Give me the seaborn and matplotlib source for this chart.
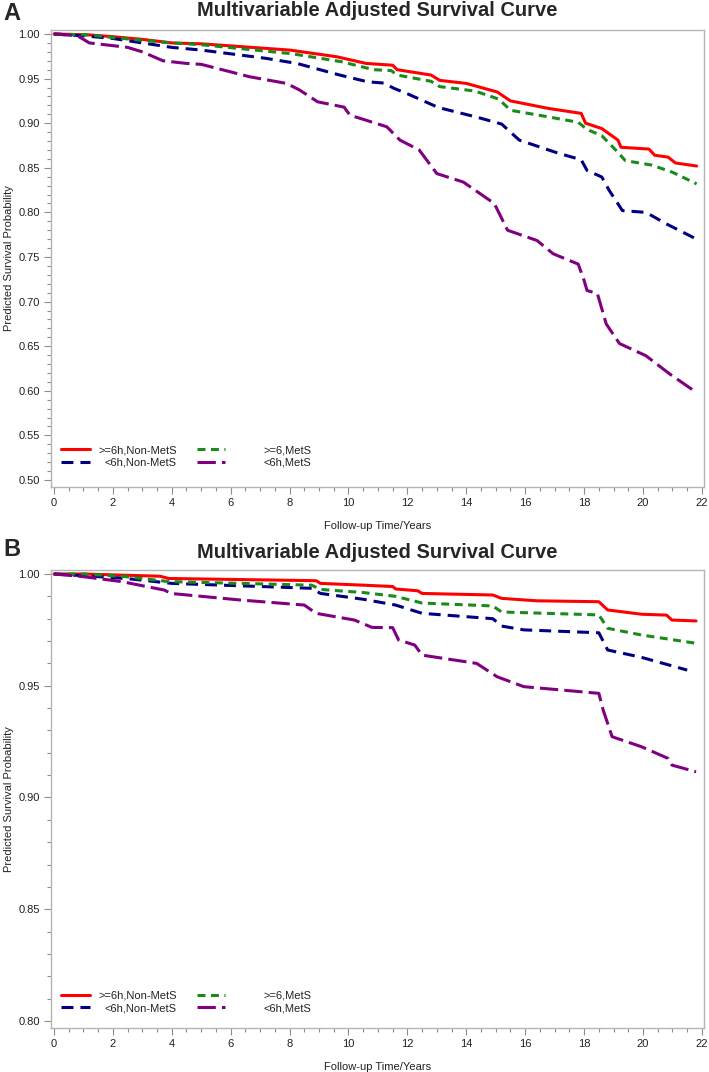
import matplotlib
matplotlib.use("Agg")
import matplotlib.pyplot as plt
from matplotlib.lines import Line2D
from matplotlib.ticker import MultipleLocator, FormatStrFormatter
import pandas as pd
import seaborn as sns

# group labels (legend order)
groups = [">=6h,Non-MetS", "<6h,Non-MetS", ">=6,MetS", "<6h,MetS"]

# panel A
red_a_t = [0, 1.2, 2, 3, 4, 5, 8.0, 9.6, 10.6, 11.5, 11.65, 12.8, 13.1, 14.0, 15.05, 15.5,
           16.8, 17.9, 18.05, 18.6, 19.15, 19.25, 20.2, 20.4, 20.85, 21.1, 21.82]
red_a_s = [1.0, 0.999, 0.997, 0.994, 0.990, 0.989, 0.982, 0.9745, 0.967, 0.965, 0.960, 0.954,
           0.948, 0.9446, 0.935, 0.925, 0.9165, 0.911, 0.900, 0.894, 0.881, 0.873, 0.871, 0.864,
           0.862, 0.8554, 0.852]
green_a_t = [0, 1.2, 2, 3, 4, 5, 8.05, 9.75, 10.85, 11.45, 11.65, 12.8, 13.1, 14.3, 15.1, 15.5,
             16.8, 17.8, 18.1, 18.6, 19.1, 19.4, 20.3, 21.0, 21.82]
green_a_s = [1.0, 0.999, 0.996, 0.993, 0.990, 0.988, 0.978, 0.969, 0.960, 0.959, 0.954, 0.947,
             0.941, 0.936, 0.927, 0.9145, 0.907, 0.901, 0.893, 0.886, 0.869, 0.858, 0.853, 0.845,
             0.832]
navy_a_t = [0, 1.0, 2.0, 3.0, 4.0, 5.0, 7.2, 8.25, 9.7, 10.65, 11.2, 11.55, 12.0, 13.05, 14.4,
            15.2, 15.8, 17.1, 17.9, 18.1, 18.6, 18.85, 19.3, 20.1, 20.8, 21.82]
navy_a_s = [1.0, 0.998, 0.995, 0.990, 0.985, 0.982, 0.9727, 0.967, 0.954, 0.9464, 0.945, 0.939,
            0.933, 0.9176, 0.9064, 0.899, 0.881, 0.8666, 0.859, 0.847, 0.8397, 0.8247, 0.802,
            0.800, 0.787, 0.770]
purple_a_t = [0, 0.8, 1.2, 2.5, 3.0, 3.7, 4.5, 5.0, 6.65, 7.9, 8.35, 8.95, 9.85, 10.05, 11.3,
              11.75, 12.4, 13.0, 13.9, 14.95, 15.4, 16.4, 16.95, 17.8, 18.0, 18.1, 18.45, 18.75,
              19.2, 20.1, 20.9, 21.82]
purple_a_s = [1.0, 0.998, 0.990, 0.985, 0.980, 0.970, 0.967, 0.966, 0.952, 0.9446, 0.937, 0.924,
              0.918, 0.909, 0.896, 0.881, 0.870, 0.8435, 0.834, 0.810, 0.780, 0.7685, 0.7536,
              0.742, 0.7236, 0.7124, 0.709, 0.675, 0.653, 0.6393, 0.619, 0.598]

# panel B
red_b_t = [0, 1.0, 3.6, 3.9, 8.9, 9.05, 10.5, 11.5, 11.6, 12.35, 12.5, 14.9, 15.2, 16.4, 18.5,
           18.8, 19.95, 20.8, 20.98, 21.8]
red_b_s = [1.0, 1.0, 0.999, 0.998, 0.997, 0.9958, 0.995, 0.9944, 0.9933, 0.9925, 0.9913, 0.9906,
           0.9891, 0.988, 0.9876, 0.9839, 0.982, 0.9816, 0.9794, 0.979]
green_b_t = [0, 1.0, 2.45, 3.9, 8.75, 9.05, 10.5, 11.6, 12.5, 14.9, 15.2, 18.5, 18.8, 19.95, 21.8]
green_b_s = [1.0, 1.0, 0.9988, 0.9966, 0.995, 0.9931, 0.9917, 0.990, 0.987, 0.9857, 0.983,
             0.9817, 0.9757, 0.9727, 0.969]
navy_b_t = [0, 1.3, 2.45, 4.0, 8.75, 9.05, 10.5, 11.6, 12.5, 14.9, 15.2, 15.95, 18.5, 18.8,
            19.95, 21.5]
navy_b_s = [1.0, 0.999, 0.998, 0.9958, 0.9936, 0.9913, 0.9887, 0.9861, 0.9824, 0.980, 0.9767,
            0.975, 0.9737, 0.966, 0.9627, 0.957]
purple_b_t = [0, 1.0, 2.3, 3.75, 3.97, 6.3, 8.5, 8.9, 10.2, 10.8, 11.5, 11.7, 12.25, 12.5, 14.35,
              15.05, 15.95, 18.5, 18.65, 18.95, 19.95, 20.85, 20.98, 21.8]
purple_b_s = [1.0, 0.9988, 0.9966, 0.9928, 0.9913, 0.9884, 0.9861, 0.9824, 0.9794, 0.9761, 0.976,
              0.9705, 0.9682, 0.9637, 0.960, 0.954, 0.9496, 0.9466, 0.939, 0.9272, 0.9227,
              0.9175, 0.9145, 0.9115]

colors = {groups[0]: "#ff0000", groups[1]: "#000080", groups[2]: "#1a8a1a", groups[3]: "#800080"}
dashes = {groups[0]: "", groups[1]: (3.9, 2.3), groups[2]: (2.6, 1.8), groups[3]: (6.0, 2.0)}


def make_df(curves):
    rows = []
    for g, (t, s) in zip(groups, curves):
        rows.append(pd.DataFrame({"time": t, "surv": s, "group": g}))
    return pd.concat(rows, ignore_index=True)


df_a = make_df([(red_a_t, red_a_s), (navy_a_t, navy_a_s), (green_a_t, green_a_s), (purple_a_t, purple_a_s)])
df_b = make_df([(red_b_t, red_b_s), (navy_b_t, navy_b_s), (green_b_t, green_b_s), (purple_b_t, purple_b_s)])

sns.set_style("ticks")
plt.rcParams["font.family"] = ["Liberation Sans", "DejaVu Sans"]

fig = plt.figure(figsize=(7.09, 10.72), dpi=100)
W, H = 709, 1072


def panel(df, box, ylim, letter, title_y, letter_y, leg_y):
    left, top, right, bottom = box
    ax = fig.add_axes([left / W, 1 - bottom / H, (right - left) / W, (bottom - top) / H])
    sns.lineplot(data=df, x="time", y="surv", hue="group", style="group", hue_order=groups,
                 style_order=groups, palette=colors, dashes=dashes, estimator=None,
                 linewidth=2.2, legend=False, ax=ax)
    ax.set_xlim(-0.1, 22.07)
    ax.set_ylim(*ylim)
    ax.xaxis.set_major_locator(MultipleLocator(2))
    ax.xaxis.set_minor_locator(MultipleLocator(0.5))
    ax.yaxis.set_major_locator(MultipleLocator(0.05))
    ax.yaxis.set_minor_locator(MultipleLocator(0.01))
    ax.yaxis.set_major_formatter(FormatStrFormatter("%.2f"))
    ax.tick_params(which="major", length=5, width=0.8, color="#8c8c8c", labelsize=8,
                   labelcolor="#222222", pad=3)
    ax.tick_params(which="minor", length=3, width=0.8, color="#8c8c8c")
    for sp in ax.spines.values():
        sp.set_color("#b4b4b4")
        sp.set_linewidth(1.0)
    ax.set_xlabel("Follow-up Time/Years", fontsize=8, color="#222222", labelpad=9)
    ax.set_ylabel("Predicted Survival Probability", fontsize=8, color="#222222")
    ax.yaxis.set_label_coords((14 - left) / (right - left), 0.5)

    handles = [Line2D([], [], color=colors[g], lw=2.2,
                      linestyle="-" if dashes[g] == "" else (0, dashes[g])) for g in groups]
    leg = ax.legend(handles, groups, loc="lower left", bbox_to_anchor=(0.004, leg_y), ncol=2,
                    frameon=False, fontsize=8, handlelength=2.6, handletextpad=0.7,
                    columnspacing=1.8, labelspacing=0.25, borderaxespad=0.3)
    for t in leg.get_texts():
        t.set_color("#222222")

    fig.text((left + right) / 2 / W, 1 - title_y / H, "Multivariable Adjusted Survival Curve",
             ha="center", va="center", fontsize=14.5, fontweight="bold")
    fig.text(12 / W, 1 - letter_y / H, letter, ha="center", va="center", fontsize=17,
             fontweight="bold")
    return ax, leg


ax_a, leg_a = panel(df_a, (51, 30, 704, 487), (0.50 - 7 / 892, 1 + 4 / 892), "A", 11, 13, 0.025)
ax_b, leg_b = panel(df_b, (51, 570, 704, 1028), (0.80 - 7 / 2235, 1 + 4 / 2235), "B", 553, 549, 0.015)

# right-align legend labels like the original
fig.canvas.draw()
r = fig.canvas.get_renderer()
for leg in (leg_a, leg_b):
    texts = leg.get_texts()
    widths = [t.get_window_extent(r).width for t in texts]
    wmax = max(widths)
    for t, w in zip(texts, widths):
        t.set_x(wmax - w)

fig.savefig("out.png", dpi=100, facecolor="white")
